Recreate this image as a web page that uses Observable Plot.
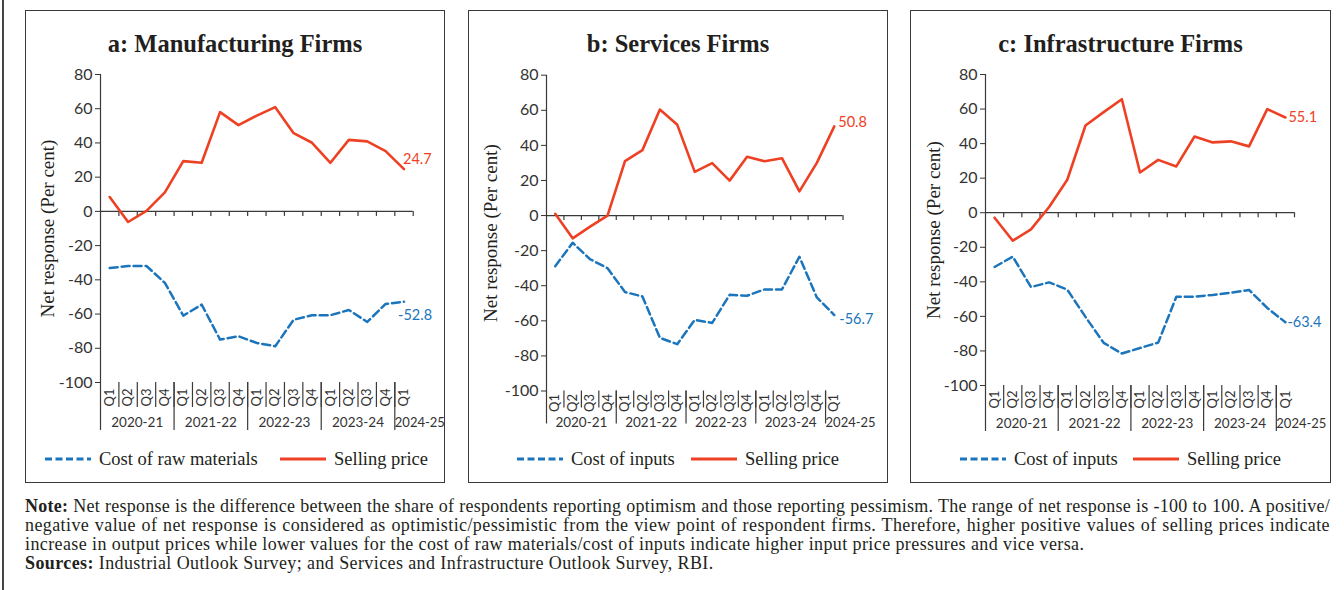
<!DOCTYPE html>
<html><head><meta charset="utf-8">
<script src="https://cdn.jsdelivr.net/npm/d3@7"></script>
<script src="https://cdn.jsdelivr.net/npm/@observablehq/plot@0.6"></script>
<style>
body{margin:0;background:#fff;width:1344px;height:590px;position:relative;overflow:hidden;font-family:"Liberation Serif",serif;color:#231f20}
.pageline{position:absolute;left:2px;top:0;width:1.5px;height:590px;background:#444}
.box{position:absolute;top:10px;height:473px;border:1.5px solid #3a3a3a;box-sizing:border-box}
.title{position:absolute;left:0;width:100%;top:19px;font-weight:bold;font-size:24.5px;line-height:28px;text-align:center;color:#231f20}
.plot{position:absolute;top:60px}
.leg{position:absolute;top:449px;height:20px;display:flex;align-items:center;font-size:18.5px;color:#231f20;white-space:nowrap}
.leg svg{margin-right:8px}
.note{position:absolute;left:25px;top:497px;width:1305px;font-size:18px;letter-spacing:0.4px;line-height:19px;color:#231f20}
.note .j{text-align:justify;text-align-last:justify}
</style></head>
<body>
<div class="pageline"></div>
<div id="root"></div>
<div class="note">
<div class="j"><b>Note:</b> Net response is the difference between the share of respondents reporting optimism and those reporting pessimism. The range of net response is -100 to 100. A positive/</div>
<div class="j">negative value of net response is considered as optimistic/pessimistic from the view point of respondent firms. Therefore, higher positive values of selling prices indicate</div>
<div>increase in output prices while lower values for the cost of raw materials/cost of inputs indicate higher input price pressures and vice versa.</div>
<div><b>Sources:</b> Industrial Outlook Survey; and Services and Infrastructure Outlook Survey, RBI.</div>
</div>
<script>
const quarters = ["Q1","Q2","Q3","Q4","Q1","Q2","Q3","Q4","Q1","Q2","Q3","Q4","Q1","Q2","Q3","Q4","Q1"];
const years = ["2020-21","2021-22","2022-23","2023-24","2024-25"];
const yTicks = [-100,-80,-60,-40,-20,0,20,40,60,80];

const mfgRawMaterials = [-33.1,-31.9,-31.9,-41.8,-60.9,-54.5,-74.9,-73.0,-76.9,-78.8,-63.3,-60.7,-60.7,-57.6,-64.6,-54.1,-52.8];
const mfgSellingPrice = [8.4,-6.2,0.3,11.1,29.4,28.4,58.0,50.4,56.0,60.9,45.7,40.1,28.4,41.8,40.9,35.2,24.7];
const svcCostInputs = [-28.9,-15.5,-24.9,-30.0,-43.6,-46.1,-69.7,-73.3,-59.5,-61.2,-45.2,-45.7,-42.1,-42.1,-23.5,-46.7,-56.7];
const svcSellingPrice = [1.0,-13.0,-6.3,0.0,31.0,37.3,60.4,51.7,24.9,29.9,19.9,33.5,31.0,32.7,13.8,30.0,50.8];
const infCostInputs = [-31.4,-25.4,-43.0,-40.3,-44.5,-60.3,-75.3,-81.5,-78.3,-75.2,-48.6,-48.6,-47.6,-46.3,-44.7,-55.1,-63.4];
const infSellingPrice = [-2.9,-16.2,-9.6,3.3,19.1,50.5,58.2,65.7,23.3,30.6,26.8,44.1,40.7,41.3,38.4,60.0,55.1];

const RED = "#ee4124", BLUE = "#1b75bc", AX = "#3a3a3a";

// keep justified note lines on a single line each
document.querySelectorAll(".note .j").forEach(el => {
  let ls = 0.4;
  while (el.getBoundingClientRect().height > 25 && ls > -0.5) {
    ls -= 0.05;
    el.style.letterSpacing = ls + "px";
  }
});

// year groups derived from quarter labels
const groups = [];
quarters.forEach((q, i) => {
  if (q === "Q1") groups.push({year: years[groups.length], start: i, end: i});
  else groups[groups.length - 1].end = i;
});

const panels = [
  {title: "a: Manufacturing Firms", costName: "Cost of raw materials", cost: mfgRawMaterials, sell: mfgSellingPrice,
   left: 25, w: 420, mL: 75, mR: 32.3, mT: 14, mB: 58, qDy: 6, sepLen: 25, yearDy: 40, axisExt: 48, ylDx: -53,
   sellOff: [-1, -10], costOff: [-6, 14], legBlue: 45, legRed: 280},
  {title: "b: Services Firms", costName: "Cost of inputs", cost: svcCostInputs, sell: svcSellingPrice,
   left: 468, w: 420, mL: 78, mR: 45.5, mT: 14.7, mB: 49.5, qDy: 3, sepLen: 17, yearDy: 32, axisExt: 33, ylDx: -56,
   sellOff: [4, -4], costOff: [5, 4], legBlue: 517, legRed: 691},
  {title: "c: Infrastructure Firms", costName: "Cost of inputs", cost: infCostInputs, sell: infSellingPrice,
   left: 910, w: 421, mL: 75, mR: 37, mT: 14, mB: 55, qDy: 5, sepLen: 23, yearDy: 38, axisExt: 46, ylDx: -52,
   sellOff: [3, 0], costOff: [2, 0], legBlue: 960, legRed: 1133}
];

const root = document.getElementById("root");

function swatch(color, dash) {
  return `<svg width="46" height="10"><line x1="0" y1="5" x2="46" y2="5" stroke="${color}" stroke-width="3" ${dash ? 'stroke-dasharray="7,3.5"' : ""}/></svg>`;
}

for (const p of panels) {
  const box = document.createElement("div");
  box.className = "box";
  box.style.left = p.left + "px";
  box.style.width = p.w + "px";
  box.innerHTML = `<div class="title">${p.title}</div>`;
  root.appendChild(box);

  const n = quarters.length;
  const data = quarters.map((q, i) => ({i, q, cost: p.cost[i], sell: p.sell[i]}));
  const last = data[n - 1];
  const yMin = d3.min(yTicks), yMax = d3.max(yTicks);
  const bounds = d3.range(n).map(i => i + 0.5);
  const inner = bounds.slice(0, n - 1);
  const yearBounds = groups.slice(1).map(g => g.start - 0.5);
  const fullYears = groups.filter(g => g.end > g.start);
  const partYears = groups.filter(g => g.end === g.start);

  const chart = Plot.plot({
    width: p.w, height: 380,
    marginLeft: p.mL, marginRight: p.mR, marginTop: p.mT, marginBottom: p.mB,
    x: {domain: [-0.5, n - 0.5], axis: null},
    y: {domain: [yMin, yMax], axis: null},
    style: {fontFamily: "Lato", background: "transparent", overflow: "visible"},
    marks: [
      Plot.axisY(yTicks, {anchor: "left", tickSize: 5, tickPadding: 3, fontSize: 16, fontFamily: "Lato",
        label: null, color: "#333", tickFormat: d => String(d)}),
      Plot.ruleX([-0.5], {y1: yMax, y2: yMin, insetBottom: -p.axisExt, stroke: AX, strokeWidth: 1.2}),
      Plot.ruleY([0], {stroke: AX, strokeWidth: 1.2}),
      Plot.ruleX(bounds, {y1: 0, y2: 0, insetBottom: -5, stroke: AX, strokeWidth: 1.2}),
      Plot.ruleX(inner, {y1: yMin, y2: yMin, insetBottom: -p.sepLen, stroke: AX, strokeWidth: 1.2}),
      Plot.ruleX(yearBounds, {y1: yMin, y2: yMin, insetBottom: -p.axisExt, stroke: AX, strokeWidth: 1.2}),
      Plot.text(quarters, {x: (d, i) => i, y: () => yMin, text: d => d, rotate: -90, textAnchor: "end",
        dy: p.qDy, fontSize: 13, fontFamily: "Lato", fill: "#333"}),
      Plot.text(fullYears, {x: g => (g.start + g.end) / 2, y: () => yMin, text: "year", dy: p.yearDy,
        fontSize: 13.5, fontFamily: "Lato", fill: "#333"}),
      Plot.text(partYears, {x: g => g.start - 0.5, y: () => yMin, text: "year", dy: p.yearDy, dx: 0,
        textAnchor: "start", fontSize: 13, fontFamily: "Lato", fill: "#333"}),
      Plot.line(data, {x: "i", y: "cost", stroke: BLUE, strokeWidth: 2.5, strokeDasharray: "8,4"}),
      Plot.line(data, {x: "i", y: "sell", stroke: RED, strokeWidth: 2.6}),
      Plot.text([last], {x: "i", y: "sell", text: d => d.sell.toFixed(1), dx: p.sellOff[0], dy: p.sellOff[1],
        textAnchor: "start", fill: RED, fontSize: 14.5, fontFamily: "Lato"}),
      Plot.text([last], {x: "i", y: "cost", text: d => d.cost.toFixed(1), dx: p.costOff[0], dy: p.costOff[1],
        textAnchor: "start", fill: BLUE, fontSize: 14.5, fontFamily: "Lato"}),
      Plot.text(["Net response (Per cent)"], {frameAnchor: "left", rotate: -90, dx: p.ylDx, textAnchor: "middle",
        fontSize: 19, fontFamily: "Liberation Serif", fill: "#231f20"})
    ]
  });
  chart.classList.add("plot");
  chart.style.left = p.left + "px";
  chart.style.position = "absolute";
  chart.style.top = "60px";
  root.appendChild(chart);

  const l1 = document.createElement("div");
  l1.className = "leg";
  l1.style.left = p.legBlue + "px";
  l1.innerHTML = swatch(BLUE, true) + p.costName;
  root.appendChild(l1);
  const l2 = document.createElement("div");
  l2.className = "leg";
  l2.style.left = p.legRed + "px";
  l2.innerHTML = swatch(RED, false) + "Selling price";
  root.appendChild(l2);
}
</script>
</body></html>
